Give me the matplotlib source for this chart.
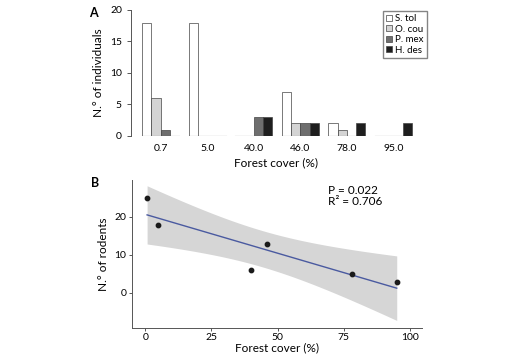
import numpy as np
import matplotlib
matplotlib.use("Agg")
import matplotlib.pyplot as plt

plt.rcParams['font.family'] = ['Lato', 'DejaVu Sans']

# panel A data
cover_labels = ["0.7", "5.0", "40.0", "46.0", "78.0", "95.0"]
species = ["S. tol", "O. cou", "P. mex", "H. des"]
s_tol = [18, 18, 0, 7, 2, 0]
o_cou = [6, 0, 0, 2, 1, 0]
p_mex = [1, 0, 3, 2, 0, 0]
h_des = [0, 0, 3, 2, 2, 2]
colors = ["white", "#d4d4d4", "#6e6e6e", "#1e1e1e"]

# panel B data
forest_cover = [0.7, 5, 40, 46, 78, 95]
rodents = [25, 18, 6, 13, 5, 3]

axcol = "#555555"
fig = plt.figure(figsize=(5.28, 3.56), dpi=100)

# ---- panel A
axA = fig.add_axes([0.248, 0.618, 0.55, 0.354])
x = np.arange(len(cover_labels))
w = 0.2
handles = []
for j, (vals, c) in enumerate(zip([s_tol, o_cou, p_mex, h_des], colors)):
    b = axA.bar(x - 0.3 + j * w, vals, w, color=c, edgecolor="#444444",
                linewidth=0.5, label=species[j])
    handles.append(b)
for i in x:
    axA.plot([i - 0.4, i + 0.4], [0, 0], color=axcol, lw=0.8)
axA.set_xlim(-0.64, 5.6)
axA.set_ylim(0, 20)
axA.set_yticks([0, 5, 10, 15, 20])
axA.set_xticks(x)
axA.set_xticklabels(cover_labels)
axA.tick_params(axis='x', length=0, labelsize=7.5, pad=6)
axA.tick_params(axis='y', labelsize=7.5, color=axcol, length=3, width=0.7)
for s in ["top", "right", "bottom"]:
    axA.spines[s].set_visible(False)
axA.spines["left"].set_color(axcol)
axA.spines["left"].set_linewidth(0.7)
axA.set_ylabel("N.° of individuals", fontsize=8.5, labelpad=4)
axA.set_xlabel("Forest cover (%)", fontsize=8.5, labelpad=3)

fig.legend(handles=handles, labels=species, loc="upper left",
           bbox_to_anchor=(0.725, 0.968), fontsize=7, frameon=True,
           fancybox=False, edgecolor="#666666", handlelength=0.6,
           handleheight=0.6, handletextpad=0.4, labelspacing=0.15,
           borderpad=0.3, borderaxespad=0)

# ---- panel B
axB = fig.add_axes([0.25, 0.079, 0.549, 0.415])
xs = np.array(forest_cover, float)
ys = np.array(rodents, float)
n = len(xs)
slope, icpt = np.polyfit(xs, ys, 1)
xx = np.linspace(xs.min(), xs.max(), 100)
yy = icpt + slope * xx
resid = ys - (icpt + slope * xs)
s = np.sqrt(np.sum(resid ** 2) / (n - 2))
sxx = np.sum((xs - xs.mean()) ** 2)
t = 2.776  # t(0.975, df=4)
se = s * np.sqrt(1 / n + (xx - xs.mean()) ** 2 / sxx)
axB.fill_between(xx, yy - t * se, yy + t * se, color="#d6d6d6", lw=0)
axB.plot(xx, yy, color="#4a5aa0", lw=1)
axB.scatter(xs, ys, s=10, color="#1a1a1a", zorder=3)
axB.set_xlim(-5, 104.5)
axB.set_ylim(-9.2, 29.7)
axB.set_xticks([0, 25, 50, 75, 100])
axB.set_yticks([0, 10, 20])
axB.tick_params(labelsize=7.5, color=axcol, length=2.5, width=0.7, pad=1.5)
for sp in ["top", "right"]:
    axB.spines[sp].set_visible(False)
for sp in ["left", "bottom"]:
    axB.spines[sp].set_color(axcol)
    axB.spines[sp].set_linewidth(0.7)
axB.set_ylabel("N.° of rodents", fontsize=8.5, labelpad=4)
axB.set_xlabel("Forest cover (%)", fontsize=8.5, labelpad=0)
axB.text(0.675, 0.97, "P = 0.022\nR² = 0.706", transform=axB.transAxes,
         fontsize=8.5, va="top", ha="left", linespacing=1.0)

fig.text(0.168, 0.963, "A", fontsize=9, fontweight="bold", va="center")
fig.text(0.172, 0.487, "B", fontsize=9, fontweight="bold", va="center")

fig.savefig("out.png", dpi=100)
